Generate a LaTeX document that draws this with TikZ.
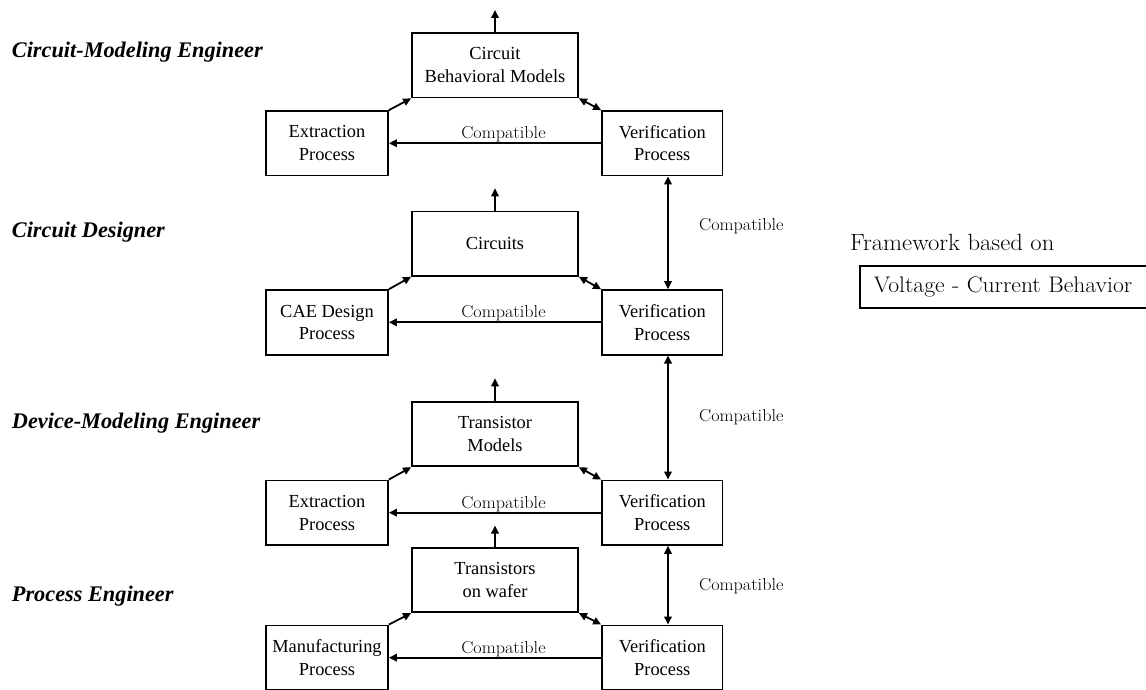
\documentclass[tikz,border=0pt]{standalone}
\usepackage{fontspec}
\newfontfamily\boxfont{Liberation Serif}
\newfontfamily\widefont[FakeStretch=1.05]{Latin Modern Roman}
\usetikzlibrary{arrows.meta}
\begin{document}
\begin{tikzpicture}[x=1pt,y=-1pt,
  box/.style={draw, line width=1.8pt, font=\boxfont\fontsize{18.4}{22.7}\selectfont, align=center, inner sep=0pt},
  midbox/.style={box, minimum width=166pt, minimum height=64.5pt},
  leftbox/.style={box, minimum width=122pt, minimum height=64.5pt},
  rightbox/.style={box, minimum width=120.5pt, minimum height=64.5pt},
  conn/.style={line width=1.8pt, -{Triangle[length=8pt,width=7.5pt]}},
  dconn/.style={line width=1.8pt, {Triangle[length=8pt,width=7.5pt]}-{Triangle[length=8pt,width=7.5pt]}},
  compat/.style={font=\widefont\fontsize{17.3}{20}\selectfont, anchor=base, inner sep=0pt},
  role/.style={font=\boxfont\bfseries\itshape\fontsize{22.3}{26}\selectfont, anchor=base west, inner sep=0pt}
]
\useasboundingbox (0,0) rectangle (1146,690);
\fill[white] (0,0) rectangle (1146,690);

% role labels
\node[role] (r1) at (11.7,58) {Circuit-Modeling Engineer};
\node[role] (r2) at (11.7,237) {Circuit Designer};
\node[role] (r3) at (11.7,428) {Device-Modeling Engineer};
\node[role] (r4) at (11.7,601) {Process Engineer};

% level 1
\node[midbox] (M1) at (495,65.25) {Circuit\\Behavioral Models};
\node[leftbox] (L1) at (327,143.25) {Extraction\\Process};
\node[rightbox] (R1) at (662.25,143.25) {Verification\\Process};
% level 2
\node[midbox] (M2) at (495,243.65) {Circuits};
\node[leftbox] (L2) at (327,322.35) {CAE Design\\Process};
\node[rightbox] (R2) at (662.25,322.35) {Verification\\Process};
% level 3
\node[midbox] (M3) at (495,434.1) {Transistor\\Models};
\node[leftbox] (L3) at (327,512.65) {Extraction\\Process};
\node[rightbox] (R3) at (662.25,512.65) {Verification\\Process};
% level 4
\node[midbox] (M4) at (495,580) {Transistors\\on wafer};
\node[leftbox] (L4) at (327,657.65) {Manufacturing\\Process};
\node[rightbox] (R4) at (662.25,657.65) {Verification\\Process};

% up-arrow end points
\coordinate (t1) at (495,10);
\coordinate (t2) at (495,188.3);
\coordinate (t3) at (495,378.3);
\coordinate (t4) at (495,525.5);
\coordinate (vx) at (668,0);

\foreach \i in {1,2,3,4}{
  \draw[conn] (M\i.north) -- (t\i);
  \draw[conn] (L\i.north east) -- (M\i.south west);
  \draw[dconn] (M\i.south east) -- (R\i.north west);
  \draw[conn] (R\i.west) -- (L\i.east);
}
\node[compat] (c1) at (503.5,138.75) {Compatible};
\node[compat] (c2) at (503.5,317.85) {Compatible};
\node[compat] (c3) at (503.5,508.15) {Compatible};
\node[compat] (c4) at (503.5,653.15) {Compatible};

% vertical compatibility arrows
\draw[dconn] (R1.south -| vx) -- (R2.north -| vx);
\draw[dconn] (R2.south -| vx) -- (R3.north -| vx);
\draw[dconn] (R3.south -| vx) -- (R4.north -| vx);
\node[compat] (v1) at (741.3,230.7) {Compatible};
\node[compat] (v2) at (741.3,421.7) {Compatible};
\node[compat] (v3) at (741.3,590.7) {Compatible};

% framework legend
\node[font=\widefont\fontsize{23.5}{27}\selectfont, anchor=base west, inner sep=0pt] (fw) at (850,250.7) {Framework based on};
\node[draw, line width=1.8pt, anchor=west, text width=272pt, inner xsep=14pt, inner ysep=0pt, minimum height=42.2pt, align=left, font=\widefont\fontsize{22.5}{26}\selectfont] (vc) at (858.9,287) {Voltage - Current Behavior};
\end{tikzpicture}
\end{document}
